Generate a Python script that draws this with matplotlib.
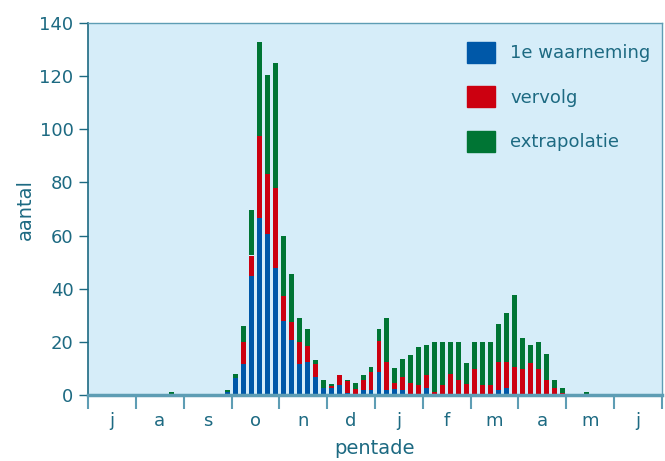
import numpy as np
import matplotlib.pyplot as plt
from matplotlib.patches import Patch

# pentades, one row per month (jul .. jun), 6 per month
eerste = [0, 0, 0, 0, 0, 0,
          0, 0, 0, 0, 0.5, 0,
          0, 0, 0, 0, 0, 1.2,
          6.5, 11.6, 44.7, 66.6, 60.5, 47.7,
          27.7, 20.6, 11.6, 12.6, 6.6, 2.6,
          2.6, 3.6, 0.6, 0, 1.7, 1.7,
          8.7, 1.7, 2.4, 1.7, 0, 0,
          2.5, 0, 0, 0, 0, 0,
          0, 0, 0, 1.8, 2.6, 0,
          0, 0.5, 0.5, 0.5, 0.5, 0,
          0, 0, 0.5, 0, 0, 0,
          0, 0, 0, 0, 0, 0]
vervolg = [0, 0, 0, 0, 0, 0,
           0, 0, 0, 0, 0, 0,
           0, 0, 0, 0, 0, 0,
           0, 8.2, 7.8, 30.7, 22.7, 30.1,
           9.7, 6.8, 8.3, 6.0, 5.2, 0,
           0.9, 4.1, 4.8, 2.4, 3.8, 6.8,
           11.8, 10.8, 2.3, 4.9, 4.7, 3.6,
           5.2, 1.3, 3.6, 7.8, 5.6, 4.3,
           9.6, 3.6, 3.6, 10.8, 10.0, 10.7,
           9.6, 11.4, 9.1, 5.0, 2.1, 0.6,
           0, 0, 0, 0, 0, 0,
           0, 0, 0, 0, 0, 0]
extrapolatie = [0, 0, 0, 0, 0, 0,
                0, 0, 0, 0, 0.6, 0,
                0, 0, 0, 0, 0, 0.8,
                1.5, 6.0, 17.3, 35.4, 37.4, 47.0,
                22.3, 18.3, 8.9, 6.1, 1.2, 3.2,
                0.5, 0, 0.4, 2.3, 2.2, 2.2,
                4.2, 16.3, 5.3, 7.1, 10.2, 14.3,
                11.3, 18.5, 16.2, 12.0, 14.2, 7.6,
                10.2, 16.2, 16.2, 14.3, 18.4, 27.1,
                12.0, 7.1, 10.2, 10.1, 3.2, 2.2,
                0, 0, 0.5, 0, 0, 0,
                0, 0, 0, 0, 0, 0]
maanden = ['j', 'a', 's', 'o', 'n', 'd', 'j', 'f', 'm', 'a', 'm', 'j']
reeksen = ['1e waarneming', 'vervolg', 'extrapolatie']

blauw = '#0058a8'
rood = '#cc0010'
groen = '#007534'
tekst = '#1d6a82'
lijn = '#5e9db4'

plt.rcParams['font.family'] = 'DejaVu Sans'

fig = plt.figure(figsize=(6.65, 4.61), dpi=100)
ax = fig.add_axes([88 / 665, 66 / 461, 574 / 665, 372 / 461])
ax.set_facecolor('#d6edf9')

b = np.array(eerste)
r = np.array(vervolg)
g = np.array(extrapolatie)
x = np.arange(len(b)) + 0.5
w = 0.62
ax.bar(x, b, w, color=blauw, zorder=2)
ax.bar(x, r, w, bottom=b, color=rood, zorder=2)
ax.bar(x, g, w, bottom=b + r, color=groen, zorder=2)

ax.set_xlim(0, 72)
ax.set_ylim(0, 140)

ax.set_yticks(range(0, 141, 20))
ax.tick_params(axis='y', direction='out', length=6.5, width=1, color=tekst,
               labelcolor=tekst, labelsize=13, pad=4)

ax.set_xticks(np.arange(0, 73, 6))
ax.set_xticks(np.arange(3, 72, 6), minor=True)
ax.set_xticklabels([])
ax.set_xticklabels(maanden, minor=True)
ax.tick_params(axis='x', which='major', direction='out', length=10, width=1.5, color=lijn)
ax.tick_params(axis='x', which='minor', length=0, labelcolor=tekst, labelsize=13, pad=12)

for s in ['top', 'right']:
    ax.spines[s].set_color(lijn)
    ax.spines[s].set_linewidth(1)
ax.spines['left'].set_color(tekst)
ax.spines['left'].set_linewidth(1.2)
ax.spines['bottom'].set_color(lijn)
ax.spines['bottom'].set_linewidth(2.5)
ax.spines['bottom'].set_zorder(3)

ax.set_ylabel('aantal', color=tekst, fontsize=14, labelpad=3)
ax.set_xlabel('pentade', color=tekst, fontsize=14, labelpad=7)

handles = [Patch(color=blauw), Patch(color=rood), Patch(color=groen)]
leg = ax.legend(handles, reeksen, loc='upper left', bbox_to_anchor=(467 / 665, 1 - 42 / 461),
                bbox_transform=fig.transFigure, frameon=False, fontsize=13,
                handlelength=1.55, handleheight=1.4, handletextpad=0.85,
                labelspacing=1.3, borderpad=0, borderaxespad=0)
for t in leg.get_texts():
    t.set_color(tekst)

fig.savefig('out.png', dpi=100)
